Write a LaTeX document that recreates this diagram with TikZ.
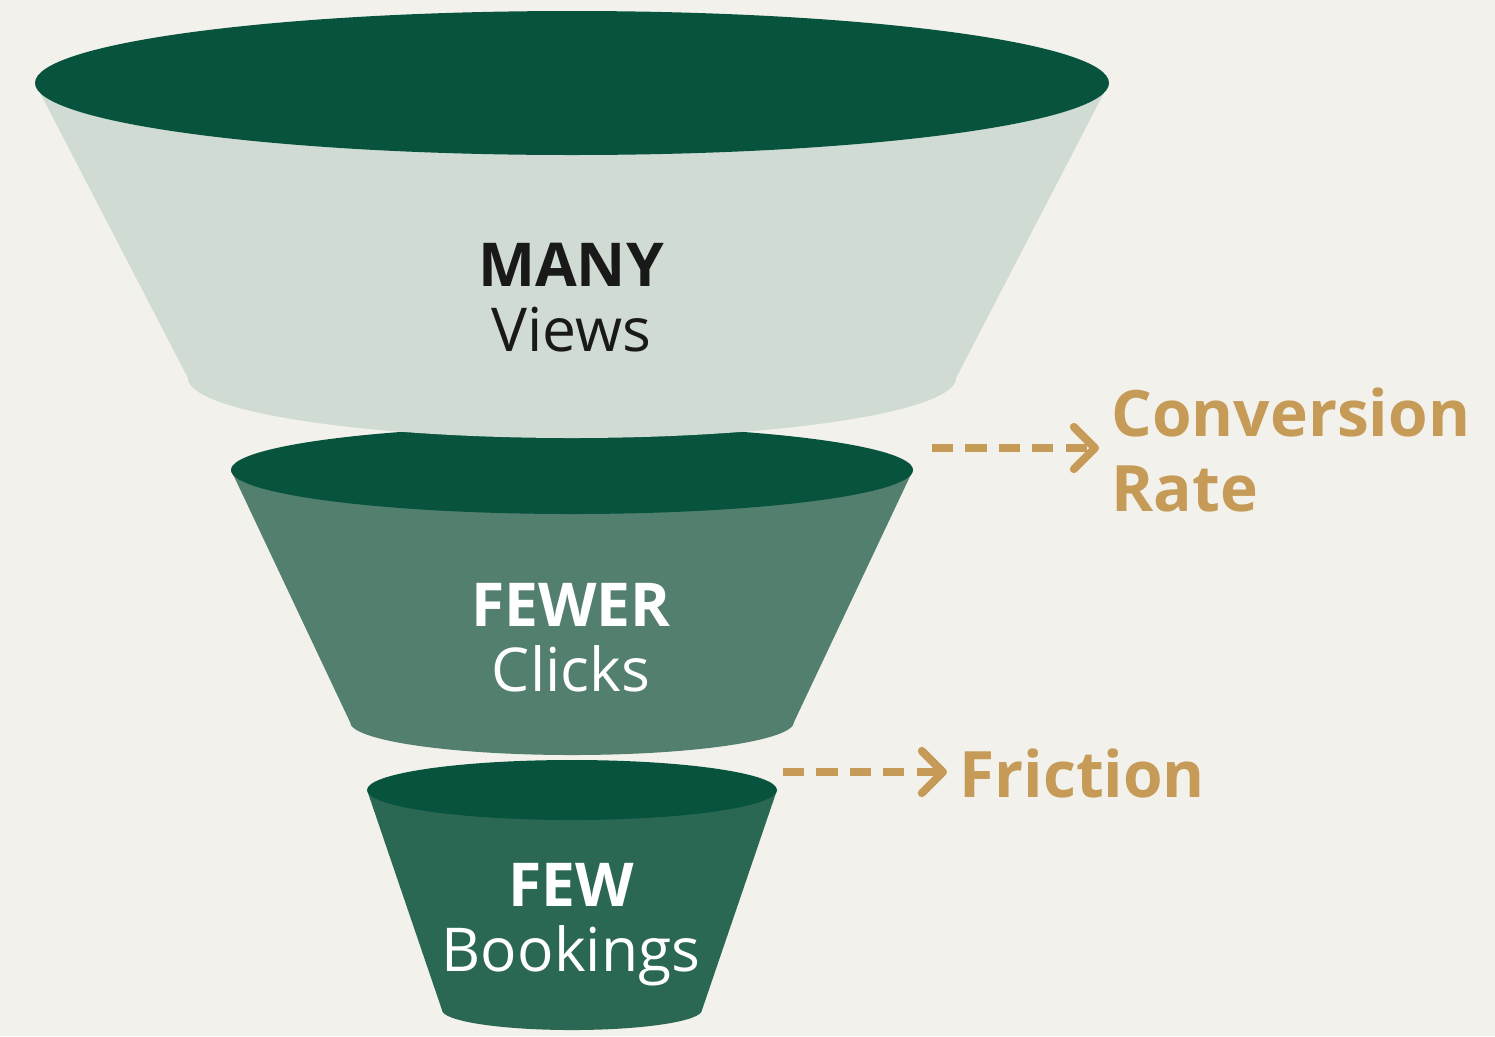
\documentclass[tikz,border=0pt]{standalone}
\usepackage{fontspec}
\setmainfont{Open Sans}
\usetikzlibrary{arrows.meta}

\definecolor{bgpaper}{HTML}{F2F1EC}
\definecolor{rimgreen}{HTML}{07533E}
\definecolor{paletop}{HTML}{D0DBD4}
\definecolor{midgreen}{HTML}{537F6F}
\definecolor{lowgreen}{HTML}{2B6854}
\definecolor{gold}{HTML}{C59B57}

\tikzset{
  tierlabel/.style={align=center,font=\fontsize{17.2}{18.5}\selectfont},
  sidelabel/.style={text=gold,anchor=west,align=left,
    font=\bfseries\fontsize{18.2}{21.3}\selectfont},
  flow/.style={gold,line width=2.3pt,dash pattern=on 6pt off 3.5pt,
    -{Straight Barb[round,length=6pt,width=12pt]}}
}

\begin{document}
\begin{tikzpicture}[x=0.01cm,y=-0.01cm]
  \useasboundingbox[fill=bgpaper] (0,0) rectangle (1495,1036);
  % funnel tiers, lowest first: rim y/rx/ry, base y/rx/ry, body colour
  \foreach \ty/\rt/\ryt/\by/\rb/\ryb/\col in
    {790/205/30/1010/130/20/lowgreen,
     470/341/44/722/222/33/midgreen,
     83/537/72/378/384/60/paletop}{
    \fill[\col] (572-\rt,\ty) -- (572-\rb,\by)
      arc[start angle=180,end angle=0,x radius=\rb,y radius=\ryb]
      -- (572+\rt,\ty) -- cycle;
    \fill[rimgreen] (572,\ty) ellipse[x radius=\rt,y radius=\ryt];
  }
  \node[tierlabel,text=black!90] (views) at (571,298) {\textbf{MANY}\\Views};
  \node[tierlabel,text=white] (clicks) at (571,638) {\textbf{FEWER}\\Clicks};
  \node[tierlabel,text=white] (bookings) at (571,925) {\textbf{FEW}\\Bookings};

  \node[sidelabel] (conv) at (1099,450) {Conversion\\Rate};
  \node[sidelabel] (fric) at (947,773) {Friction};
  \coordinate (convtail) at (932,448);
  \coordinate (frictail) at (783,772);
  \draw[flow] (convtail) -- (conv.west |- convtail);
  \draw[flow] (frictail) -- (fric.west |- frictail);
\end{tikzpicture}
\end{document}
